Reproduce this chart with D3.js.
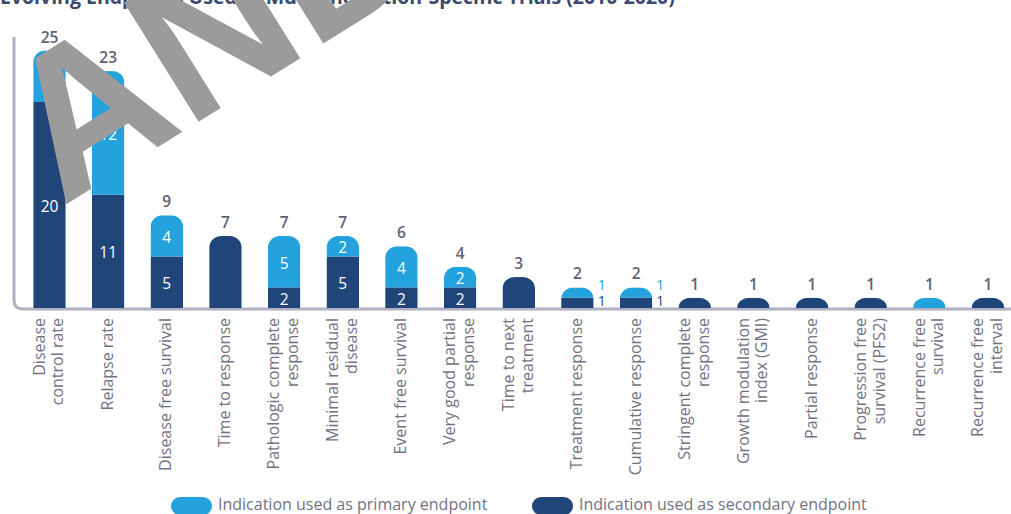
<!DOCTYPE html>
<html>
<head>
<meta charset="utf-8">
<style>
body, html {
	margin: 0;
	background: #fff;
}
#chartContainer {
	width: 1011px;
	height: 514px;
	overflow: hidden;
}
</style>
</head>
<body>
<div id="chartContainer"></div>

<script src="https://cdn.jsdelivr.net/npm/d3@7"></script>
<script>

const categories = [
	["Disease", "control rate"],
	["Relapse rate"],
	["Disease free survival"],
	["Time to response"],
	["Pathologic complete", "response"],
	["Minimal residual", "disease"],
	["Event free survival"],
	["Very good partial", "response"],
	["Time to next", "treatment"],
	["Treatment response"],
	["Cumulative response"],
	["Stringent complete", "response"],
	["Growth modulation", "index (GMI)"],
	["Partial response"],
	["Progression free", "survival (PFS2)"],
	["Recurrence free", "survival"],
	["Recurrence free", "interval"]
];
const secondary = [20, 11, 5, 7, 2, 5, 2, 2, 3, 1, 1, 1, 1, 1, 1, 0, 1];
const primary   = [5, 12, 4, 0, 5, 2, 4, 2, 0, 1, 1, 0, 0, 0, 0, 1, 0];
const legendLabels = ["Indication used as primary endpoint", "Indication used as secondary endpoint"];
const titleText = "Evolving Endpoints Used in Multi-Indication-Specific Trials (2010-2020)";

const WIDTH = 1011;
const HEIGHT = 514;
const PRIMARY_COLOR = "#23a2dd";
const SECONDARY_COLOR = "#1f4579";
const AXIS_COLOR = "#b0b0c2";
const TEXT_COLOR = "#727284";
const TOTAL_COLOR = "#606174";
const BAR_WIDTH = 32.5;
const CORNER = 12;
const FONT = "'Open Sans', sans-serif";

var svg = d3.select("#chartContainer").append("svg")
	.attr("width", WIDTH)
	.attr("height", HEIGHT);

var rows = categories.map((c, i) => ({
	id: i,
	label: c,
	secondary: secondary[i],
	primary: primary[i],
	total: secondary[i] + primary[i]
}));

var x = d3.scaleBand()
	.domain(rows.map(d => d.id))
	.range([27.5, 1010])
	.paddingInner(0.45)
	.paddingOuter(0.1);

var y = d3.scaleLinear()
	.domain([0, 25])
	.range([308, 50.5]);

// title, mostly cut off at the top edge
svg.append("text")
	.attr("x", 0)
	.attr("y", 4)
	.attr("font-family", FONT)
	.attr("font-weight", "bold")
	.attr("font-size", "19.5px")
	.attr("fill", "#3a4a6e")
	.text(titleText);

// axis frame: vertical line curving into the baseline
svg.append("path")
	.attr("d", `M14,37 V${y(0) - 8} Q14,${y(0) + 1} 23,${y(0) + 1} H${WIDTH}`)
	.attr("fill", "none")
	.attr("stroke", AXIS_COLOR)
	.attr("stroke-width", 3);

function barLeft(d) {
	return x(d.id) + (x.bandwidth() - BAR_WIDTH) / 2;
}

function roundedTop(d) {
	const x0 = barLeft(d);
	const x1 = x0 + BAR_WIDTH;
	const yb = y(0);
	const yt = y(d.total);
	const h = yb - yt;
	const rx = Math.min(CORNER, BAR_WIDTH / 2);
	const ry = Math.min(CORNER, h);
	return `M${x0},${yb} V${yt + ry} A${rx},${ry} 0 0 1 ${x0 + rx},${yt} H${x1 - rx} A${rx},${ry} 0 0 1 ${x1},${yt + ry} V${yb} Z`;
}

var defs = svg.append("defs");
defs.selectAll("clipPath")
	.data(rows)
	.enter().append("clipPath")
		.attr("id", d => "bar" + d.id)
	.append("path")
		.attr("d", roundedTop);

var bars = svg.append("g").attr("class", "bars")
	.selectAll(".bar")
	.data(rows)
	.enter().append("g")
		.attr("class", "bar")
		.attr("clip-path", d => `url(#bar${d.id})`);

bars.append("rect")
	.attr("x", barLeft)
	.attr("width", BAR_WIDTH)
	.attr("y", d => y(d.secondary))
	.attr("height", d => y(0) - y(d.secondary))
	.attr("fill", SECONDARY_COLOR);

bars.append("rect")
	.attr("x", barLeft)
	.attr("width", BAR_WIDTH)
	.attr("y", d => y(d.total))
	.attr("height", d => y(d.secondary) - y(d.total))
	.attr("fill", PRIMARY_COLOR);

var cx = d => x(d.id) + x.bandwidth() / 2;

// totals above bars
svg.append("g").selectAll("text")
	.data(rows)
	.enter().append("text")
		.attr("x", cx)
		.attr("y", d => y(d.total) - 8)
		.attr("text-anchor", "middle")
		.attr("font-family", FONT)
		.attr("font-weight", "600")
		.attr("font-size", "15.5px")
		.attr("fill", TOTAL_COLOR)
		.text(d => d.total);

// segment labels (only where both parts exist); tiny bars get them at the side
var inner = [];
rows.forEach(d => {
	if (d.primary > 0 && d.secondary > 0) {
		const side = d.total <= 2;
		inner.push({ d: d, v: d.secondary, lo: 0, hi: d.secondary, color: SECONDARY_COLOR, side: side, top: false });
		inner.push({ d: d, v: d.primary, lo: d.secondary, hi: d.total, color: PRIMARY_COLOR, side: side, top: true });
	}
});

svg.append("g").selectAll("text")
	.data(inner)
	.enter().append("text")
		.attr("x", s => s.side ? cx(s.d) + BAR_WIDTH / 2 + 8 : cx(s.d))
		.attr("y", s => {
			if (!s.side) return (y(s.lo) + y(s.hi)) / 2 + 1;
			return s.top ? y(s.hi) - 3 : (y(s.lo) + y(s.hi)) / 2 - 2;
		})
		.attr("dominant-baseline", "central")
		.attr("text-anchor", "middle")
		.attr("font-family", FONT)
		.attr("font-size", s => s.side ? "14px" : "15.5px")
		.attr("fill", s => s.side ? s.color : "#fff")
		.text(s => s.v);

// category labels
var labels = svg.append("g").selectAll("text")
	.data(rows)
	.enter().append("text")
		.attr("transform", d => `translate(${cx(d)},318) rotate(-90)`)
		.attr("text-anchor", "end")
		.attr("font-family", FONT)
		.attr("font-size", "16px")
		.attr("fill", TEXT_COLOR);

labels.each(function(d) {
	const n = d.label.length;
	d3.select(this).selectAll("tspan")
		.data(d.label)
		.enter().append("tspan")
			.attr("x", 0)
			.attr("y", (t, i) => (i - (n - 1) / 2) * 18.5 - 1)
			.attr("dy", "0.35em")
			.text(t => t);
});

// legend
var legend = svg.append("g").selectAll("g")
	.data(legendLabels)
	.enter().append("g")
		.attr("transform", (t, i) => `translate(${i === 0 ? 171 : 532},497)`);

legend.append("rect")
	.attr("width", 41)
	.attr("height", 18)
	.attr("rx", 9)
	.attr("fill", (t, i) => i === 0 ? PRIMARY_COLOR : SECONDARY_COLOR);

legend.append("text")
	.attr("x", 47)
	.attr("y", 13)
	.attr("font-family", FONT)
	.attr("font-size", "16px")
	.attr("fill", TEXT_COLOR)
	.text(t => t);

// watermark
svg.append("text")
	.attr("transform", "translate(62,207) rotate(-32)")
	.attr("font-family", "'Liberation Sans', Arial, sans-serif")
	.attr("font-weight", "bold")
	.attr("font-size", "204px")
	.attr("fill", "#9b9b9b")
	.text("AND");

</script>
</body>
</html>
